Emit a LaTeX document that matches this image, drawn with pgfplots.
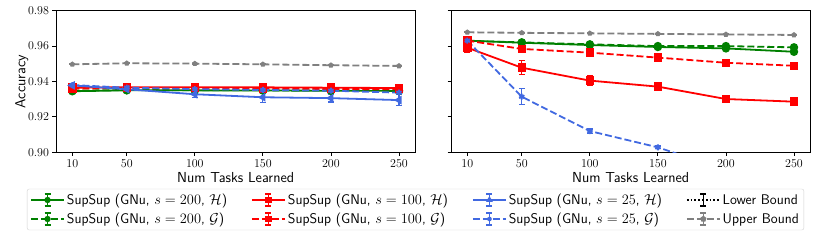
\documentclass[border=0pt]{standalone}
\usepackage{pgfplots}
\pgfplotsset{compat=1.18}
\renewcommand{\familydefault}{\sfdefault}
\newcommand{\myfont}{\fontsize{12.3}{14}\selectfont}
\newcommand{\txtfont}{\fontsize{14.5}{17}\selectfont}
\newcommand{\legfont}{\fontsize{14}{16}\selectfont}
\definecolor{mgreen}{RGB}{0,128,0}
\definecolor{mred}{RGB}{255,0,0}
\definecolor{mblue}{RGB}{65,105,225}
\definecolor{mgray}{RGB}{128,128,128}
\pgfplotsset{
  ebar/.style={error bars/y dir=both, error bars/y explicit,
    error bars/error bar style={line width=1.2pt, solid},
    error bars/error mark options={rotate=90, mark size=3pt, line width=1.2pt}},
  mydash/.style={dash pattern=on 7pt off 3pt},
  leg/.style={legend image code/.code={
    \draw[##1, mark=none] (0pt,0pt) -- (33pt,0pt);
    \draw[##1, solid, mark=none, line width=1.2pt] (16.5pt,-6pt) -- (16.5pt,6pt);
    \draw[##1, solid, mark=none, line width=1.2pt] (13.5pt,-6pt) -- (19.5pt,-6pt);
    \draw[##1, solid, mark=none, line width=1.2pt] (13.5pt,6pt) -- (19.5pt,6pt);
    \draw[##1, mark size=2.2pt, mark options={solid}] plot coordinates {(16.5pt,0pt)};
  }},
  gH/.style={color=mgreen, line width=1.8pt, mark=*, mark size=3.3pt, mark options={solid}, ebar, leg},
  gG/.style={color=mgreen, line width=1.8pt, mydash, mark=*, mark size=3.3pt, mark options={solid}, ebar, leg},
  rH/.style={color=mred, line width=1.8pt, mark=square*, mark size=3.3pt, mark options={solid}, ebar, leg},
  rG/.style={color=mred, line width=1.8pt, mydash, mark=square*, mark size=3.3pt, mark options={solid}, ebar, leg},
  bH/.style={color=mblue, line width=1.8pt, mark=triangle*, mark size=3.3pt, mark options={solid, rotate=90}, ebar, leg},
  bG/.style={color=mblue, line width=1.8pt, mydash, mark=asterisk, mark size=3pt, mark options={solid}, ebar, leg},
  ub/.style={color=mgray, line width=1.8pt, mydash, mark=pentagon*, mark size=1.8pt, mark options={solid}, ebar, leg},
  lb/.style={color=black, line width=1.8pt, dotted, mark=none, leg},
  myaxis/.style={
    scale only axis, width=359.3pt, height=141.6pt,
    xmin=-2, xmax=262, ymin=0.90, ymax=0.98,
    xtick={10,50,100,150,200,250},
    ytick={0.90,0.92,0.94,0.96,0.98},
    yticklabel style={/pgf/number format/.cd, fixed, fixed zerofill, precision=2},
    xtick pos=bottom, ytick pos=left, tick align=outside,
    major tick length=3.5pt,
    every tick/.style={black, line width=0.8pt},
    axis line style={line width=0.8pt},
    tick label style={font=\myfont},
    label style={font=\txtfont},
    xlabel={Num Tasks Learned},
    xlabel style={yshift=1.5pt},
  },
}
\begin{document}
\begin{tikzpicture}
\useasboundingbox (0pt,0pt) rectangle (831pt,240pt);
\begin{axis}[myaxis, at={(56pt,87.7pt)}, anchor=south west,
  ylabel={Accuracy}, ylabel style={yshift=-7pt},
  legend columns=2, transpose legend, legend cell align=left,
  legend style={at={(1.0006,-0.404)}, anchor=center, draw=black!18, rounded corners=2pt,
    font=\legfont, inner xsep=3pt, inner ysep=3pt, row sep=3pt,
    /tikz/every even column/.append style={column sep=22pt}},
]
\addplot+[gH] coordinates {(10,0.9345)+-(0,0.0005) (50,0.9350)+-(0,0.0005) (100,0.9350)+-(0,0.0005) (150,0.9349)+-(0,0.0005) (200,0.9348)+-(0,0.0005) (250,0.9347)+-(0,0.0005)};
\addlegendentry{SupSup (GNu, $s=200$, $\mathcal{H}$)}
\addplot+[gG] coordinates {(10,0.9348)+-(0,0.0005) (50,0.9352)+-(0,0.0005) (100,0.9351)+-(0,0.0005) (150,0.9350)+-(0,0.0005) (200,0.9349)+-(0,0.0005) (250,0.9348)+-(0,0.0005)};
\addlegendentry{SupSup (GNu, $s=200$, $\mathcal{G}$)}
\addplot+[rH] coordinates {(10,0.9365)+-(0,0.0006) (50,0.9368)+-(0,0.0005) (100,0.9368)+-(0,0.0005) (150,0.9367)+-(0,0.0005) (200,0.9365)+-(0,0.0005) (250,0.9363)+-(0,0.0005)};
\addlegendentry{SupSup (GNu, $s=100$, $\mathcal{H}$)}
\addplot+[rG] coordinates {(10,0.9360)+-(0,0.0005) (50,0.9363)+-(0,0.0005) (100,0.9362)+-(0,0.0005) (150,0.9360)+-(0,0.0005) (200,0.9358)+-(0,0.0005) (250,0.9356)+-(0,0.0005)};
\addlegendentry{SupSup (GNu, $s=100$, $\mathcal{G}$)}
\addplot+[bH] coordinates {(10,0.9378)+-(0,0.0008) (50,0.9356)+-(0,0.0010) (100,0.9328)+-(0,0.0020) (150,0.9311)+-(0,0.0028) (200,0.9306)+-(0,0.0022) (250,0.9295)+-(0,0.0030)};
\addlegendentry{SupSup (GNu, $s=25$, $\mathcal{H}$)}
\addplot+[bG] coordinates {(10,0.9380)+-(0,0.0006) (50,0.9365)+-(0,0.0006) (100,0.9357)+-(0,0.0008) (150,0.9352)+-(0,0.0006) (200,0.9348)+-(0,0.0006) (250,0.9337)+-(0,0.0008)};
\addlegendentry{SupSup (GNu, $s=25$, $\mathcal{G}$)}
\addlegendimage{lb}
\addlegendentry{Lower Bound}
\addplot+[ub] coordinates {(10,0.9497)+-(0,0.0002) (50,0.9503)+-(0,0.0002) (100,0.9501)+-(0,0.0002) (150,0.9497)+-(0,0.0002) (200,0.9492)+-(0,0.0002) (250,0.9488)+-(0,0.0002)};
\addlegendentry{Upper Bound}
\end{axis}
\begin{axis}[myaxis, at={(451pt,87.7pt)}, anchor=south west, yticklabels={}]
\addplot+[gH] coordinates {(10,0.9631)+-(0,0.0005) (50,0.9619)+-(0,0.0005) (100,0.9606)+-(0,0.0005) (150,0.9595)+-(0,0.0005) (200,0.9587)+-(0,0.0005) (250,0.9568)+-(0,0.0006)};
\addplot+[gG] coordinates {(10,0.9630)+-(0,0.0005) (50,0.9621)+-(0,0.0005) (100,0.9610)+-(0,0.0005) (150,0.9600)+-(0,0.0005) (200,0.9600)+-(0,0.0005) (250,0.9593)+-(0,0.0005)};
\addplot+[rH] coordinates {(10,0.9591)+-(0,0.0026) (50,0.9478)+-(0,0.0040) (100,0.9405)+-(0,0.0027) (150,0.9371)+-(0,0.0008) (200,0.9301)+-(0,0.0006) (250,0.9286)+-(0,0.0006)};
\addplot+[rG] coordinates {(10,0.9631)+-(0,0.0006) (50,0.9584)+-(0,0.0008) (100,0.9563)+-(0,0.0006) (150,0.9535)+-(0,0.0006) (200,0.9506)+-(0,0.0006) (250,0.9489)+-(0,0.0006)};
\addplot+[bG] coordinates {(10,0.9631)+-(0,0.0006) (50,0.9314)+-(0,0.0046) (100,0.9120)+-(0,0.0012) (150,0.9028)+-(0,0.0008) (200,0.8900)+-(0,0.0010) (250,0.8800)+-(0,0.0010)};
\addplot+[ub] coordinates {(10,0.9678)+-(0,0.0002) (50,0.9675)+-(0,0.0002) (100,0.9672)+-(0,0.0002) (150,0.9669)+-(0,0.0002) (200,0.9666)+-(0,0.0002) (250,0.9663)+-(0,0.0002)};
\end{axis}
\end{tikzpicture}
\end{document}
